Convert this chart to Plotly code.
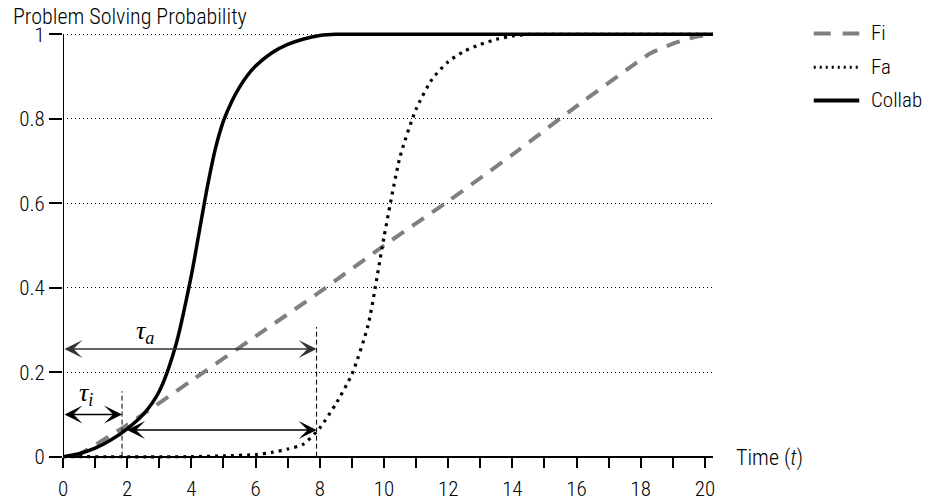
import plotly.graph_objects as go

# ---------------- data ----------------
t_collab = [0, 0.5, 1.0, 1.5, 2.0, 2.5, 3.0, 3.5, 4.0, 4.25, 4.5, 4.75, 5.0, 5.25, 5.5, 5.75, 6.0, 6.5, 7.0, 7.5, 8.0, 8.5, 9.0, 12.0, 16.0, 20.25]
collab   = [0, 0.007, 0.02, 0.04, 0.066, 0.1, 0.155, 0.26, 0.43, 0.535, 0.64, 0.73, 0.795, 0.84, 0.875, 0.903, 0.925, 0.956, 0.976, 0.989, 0.997, 1.0, 1.0, 1.0, 1.0, 1.0]

t_fi = [0.4, 2, 4, 6, 8, 10, 12, 14, 16, 18, 18.3, 19, 19.6, 20.25]
fi   = [0.0, 0.075, 0.18, 0.285, 0.39, 0.5, 0.605, 0.715, 0.83, 0.94, 0.955, 0.978, 0.992, 1.0]

t_fa = [0, 4, 5, 6, 6.5, 7, 7.5, 8, 8.5, 9, 9.5, 10, 10.5, 11, 11.5, 12, 12.5, 13, 13.5, 14, 14.5, 15, 17, 20.25]
fa   = [0, 0.0, 0.002, 0.005, 0.01, 0.018, 0.03, 0.068, 0.125, 0.195, 0.31, 0.52, 0.71, 0.823, 0.894, 0.935, 0.96, 0.976, 0.988, 0.996, 1.0, 1.0, 1.0, 1.0]

x_ticks = [0, 2, 4, 6, 8, 10, 12, 14, 16, 18, 20]
y_ticks = [0, 0.2, 0.4, 0.6, 0.8, 1.0]
y_tick_labels = ["0", "0.2", "0.4", "0.6", "0.8", "1"]

tau_i = 1.84          # end of tau_i interval
tau_a = 7.9           # end of tau_a interval
tau_i_level = 0.1     # height of the tau_i arrow
tau_a_level = 0.255   # height of the tau_a arrow
gap_level = 0.063     # height of the lower arrow
gap_start = 1.95
tau_i_top = 0.155
tau_a_top = 0.307

series_names = ["Fi", "Fa", "Collab"]

# ---------------- style ----------------
FONT = "Roboto Condensed, DejaVu Sans Condensed, sans-serif"
SERIF = "Liberation Serif, Times New Roman, serif"
X_MAX = 20.25
Y_MIN, Y_MAX = -0.015, 1.015

fig = go.Figure()
fig.add_trace(go.Scatter(x=t_fi, y=fi, mode="lines", name=series_names[0],
                         line=dict(color="#808080", width=4, dash="14px,10px", shape="spline", smoothing=0.5)))
fig.add_trace(go.Scatter(x=t_fa, y=fa, mode="lines", name=series_names[1],
                         line=dict(color="black", width=3.2, dash="3px,5px", shape="spline", smoothing=0.6)))
fig.add_trace(go.Scatter(x=t_collab, y=collab, mode="lines", name=series_names[2],
                         line=dict(color="black", width=3.5, shape="spline", smoothing=0.8)))

shapes = []
# y axis line from 0 to 1
shapes.append(dict(type="line", xref="x", yref="y", x0=0, x1=0, y0=0, y1=1,
                   line=dict(color="black", width=2)))
# vertical dashed markers
for xv, top in [(tau_i, tau_i_top), (tau_a, tau_a_top)]:
    shapes.append(dict(type="line", xref="x", yref="y", x0=xv, x1=xv, y0=0, y1=top,
                       line=dict(color="black", width=1, dash="5px,3px")))

# custom legend
leg_x0, leg_x1, leg_tx = 1.155, 1.225, 1.240
leg_y = [0.9876, 0.9095, 0.8336]
leg_styles = [dict(color="#808080", width=4, dash="17px,12px"),
              dict(color="black", width=3, dash="2px,4px"),
              dict(color="black", width=4)]
annotations = []
for name, yy, st in zip(series_names, leg_y, leg_styles):
    shapes.append(dict(type="line", xref="paper", yref="paper", x0=leg_x0, x1=leg_x1, y0=yy, y1=yy, line=st))
    annotations.append(dict(xref="paper", yref="paper", x=leg_tx, y=yy, text=name, showarrow=False,
                            xanchor="left", yanchor="middle",
                            font=dict(family=FONT, size=21, color="black", weight=300)))

# arrows
arrow_common = dict(xref="x", yref="y", axref="x", ayref="y", text="", showarrow=True,
                    arrowhead=3, startarrowhead=3, arrowside="end+start",
                    arrowsize=2.0, startarrowsize=2.0, arrowwidth=1.5,
                    standoff=0, startstandoff=0)
annotations.append(dict(x=tau_a, y=tau_a_level, ax=0, ay=tau_a_level, arrowcolor="#333333", **arrow_common))
annotations.append(dict(x=tau_i, y=tau_i_level, ax=0, ay=tau_i_level, arrowcolor="black", **arrow_common))
annotations.append(dict(x=tau_a, y=gap_level, ax=gap_start, ay=gap_level, arrowcolor="black", **arrow_common))

# tau labels
annotations.append(dict(x=2.55, y=0.295, xref="x", yref="y", showarrow=False,
                        text="<i>τ</i><sub><i>a</i></sub>", font=dict(family=SERIF, size=26, color="black")))
annotations.append(dict(x=0.72, y=0.148, xref="x", yref="y", showarrow=False,
                        text="<i>τ</i><sub><i>i</i></sub>", font=dict(family=SERIF, size=26, color="black")))

# titles
annotations.append(dict(xref="paper", yref="paper", x=-0.0805, y=1.026, text="Problem Solving Probability",
                        showarrow=False, xanchor="left", yanchor="middle",
                        font=dict(family=FONT, size=22, color="black", weight=300)))
annotations.append(dict(xref="paper", yref="paper", x=1.032, y=0.011, text="Time (<i>t</i>)",
                        showarrow=False, xanchor="left", yanchor="middle",
                        font=dict(family=FONT, size=22, color="black", weight=300)))

fig.update_layout(
    width=942, height=501, autosize=False,
    margin=dict(l=62.5, r=942 - 62.5 - 651, t=27.7, b=38.2, pad=0),
    plot_bgcolor="white", paper_bgcolor="white",
    showlegend=False,
    font=dict(family=FONT, size=21, color="black"),
    shapes=shapes, annotations=annotations,
    xaxis=dict(range=[0, X_MAX], tickvals=x_ticks, ticks="outside", ticklen=10, tickwidth=1.5,
               tickcolor="black", showline=True, linecolor="black", linewidth=2,
               showgrid=False, zeroline=False, anchor="free", position=(0 - Y_MIN) / (Y_MAX - Y_MIN),
               ticklabelstandoff=3, automargin=False,
               minor=dict(dtick=1, tick0=0, ticks="outside", ticklen=10, tickwidth=1.5, tickcolor="black"),
               tickfont=dict(family=FONT, size=21, weight=300)),
    yaxis=dict(range=[Y_MIN, Y_MAX], tickvals=y_ticks, ticktext=y_tick_labels, ticks="outside",
               ticklen=13, tickwidth=1.5, tickcolor="black", showline=False, automargin=False,
               showgrid=True, gridcolor="black", gridwidth=1, griddash="1px,3px", zeroline=False,
               tickfont=dict(family=FONT, size=21, weight=300)),
)

post = ("document.body.style.margin='0px';document.body.style.padding='0px';"
        "document.body.style.overflow='hidden';")
fig.write_html("out.html", config={"responsive": False, "displayModeBar": False}, post_script=post)
